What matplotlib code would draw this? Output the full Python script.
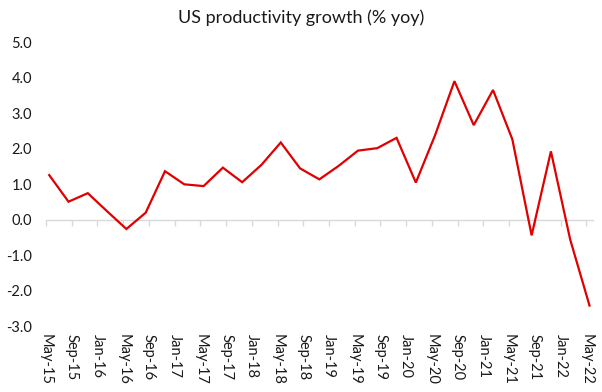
import matplotlib
matplotlib.use("Agg")
import matplotlib.pyplot as plt
import numpy as np

plt.rcParams['font.family'] = ['Lato', 'DejaVu Sans']

# Quarterly observations (month of observation), May-15 .. May-22
obs_dates = ["2015-05", "2015-08", "2015-11", "2016-02", "2016-05", "2016-08", "2016-11",
             "2017-02", "2017-05", "2017-08", "2017-11", "2018-02", "2018-05", "2018-08",
             "2018-11", "2019-02", "2019-05", "2019-08", "2019-11", "2020-02", "2020-05",
             "2020-08", "2020-11", "2021-02", "2021-05", "2021-08", "2021-11", "2022-02",
             "2022-05"]
growth = [1.26, 0.51, 0.75, 0.24, -0.26, 0.20, 1.37,
          1.00, 0.95, 1.47, 1.06, 1.55, 2.18, 1.45,
          1.14, 1.52, 1.95, 2.02, 2.31, 1.05, 2.39,
          3.91, 2.67, 3.66, 2.27, -0.44, 1.93, -0.56,
          -2.42]
tick_labels = ["May-15", "Sep-15", "Jan-16", "May-16", "Sep-16", "Jan-17", "May-17",
               "Sep-17", "Jan-18", "May-18", "Sep-18", "Jan-19", "May-19", "Sep-19",
               "Jan-20", "May-20", "Sep-20", "Jan-21", "May-21", "Sep-21", "Jan-22",
               "May-22"]
yticks = [5.0, 4.0, 3.0, 2.0, 1.0, 0.0, -1.0, -2.0, -3.0]


def month_index(s):
    y, m = s.split("-")
    return (int(y) - 2015) * 12 + int(m) - 5

x = np.array([month_index(d) for d in obs_dates]) + 0.5
tick_pos = np.arange(len(tick_labels)) * 4

fig = plt.figure(figsize=(6.02, 3.92), dpi=100)
ax = fig.add_axes([0.0764, 0.168, 0.9082, 0.7236])

ax.plot(x, growth, color='#E00000', lw=1.6, solid_joinstyle='miter')

ax.set_xlim(0, 85)
ax.set_ylim(-3, 5)
ax.set_yticks(yticks)
ax.set_yticklabels([f"{v:.1f}" for v in yticks], fontsize=10.5, color='#1a1a1a')
ax.tick_params(axis='y', length=0, pad=10)

for s in ax.spines.values():
    s.set_visible(False)

ax.set_xticks(tick_pos)
ax.set_xticklabels(tick_labels, rotation=270, fontsize=10.5, color='#1a1a1a',
                   ha='center', va='top')
ax.tick_params(axis='x', length=0, pad=6)

# zero axis line with tick marks
sec = ax.secondary_xaxis(3 / 8)
sec.set_xticks(tick_pos)
sec.set_xticklabels([])
sec.spines['bottom'].set_color('#d9d9d9')
sec.spines['bottom'].set_linewidth(1.0)
sec.tick_params(axis='x', direction='out', length=4, color='#d9d9d9', width=1.0)
for k in ['top', 'left', 'right']:
    if k in sec.spines:
        sec.spines[k].set_visible(False)

fig.text(0.5, 0.954, "US productivity growth (% yoy)", ha='center', va='center',
         fontsize=13, color='#1a1a1a')

fig.savefig("out.png", dpi=100)
